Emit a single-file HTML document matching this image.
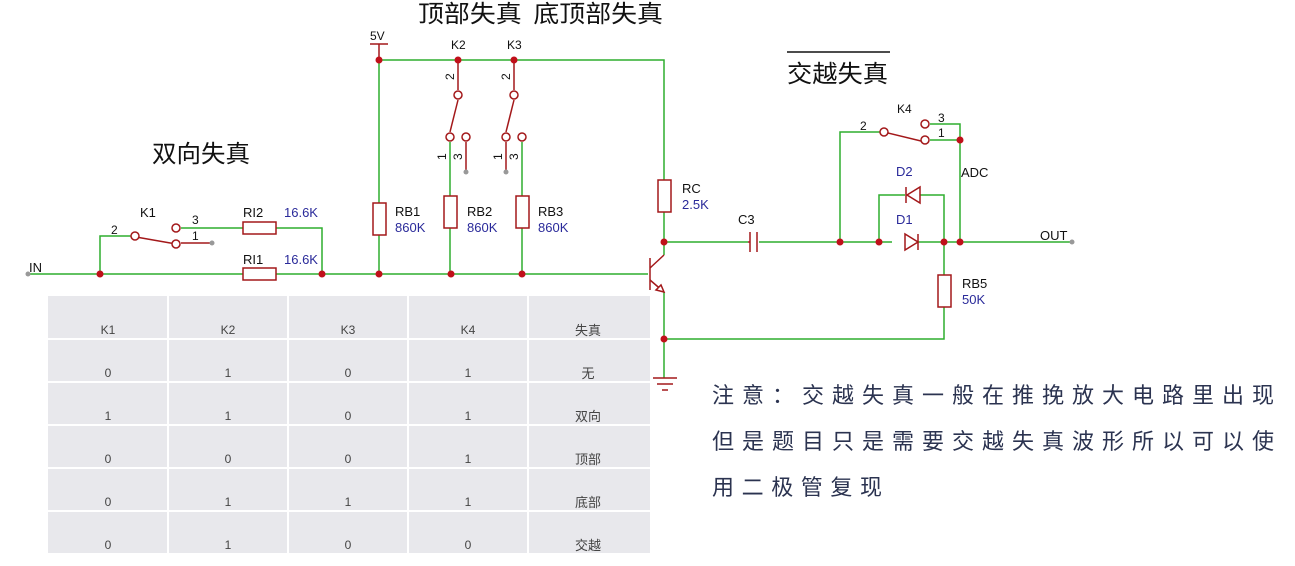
<!DOCTYPE html>
<html><head><meta charset="utf-8"><style>
body{margin:0;background:#fff;width:1295px;height:566px;overflow:hidden}
svg{display:block}
text{font-family:"Liberation Sans","Noto Sans CJK SC",sans-serif}
.w{stroke:#2fae2f;stroke-width:1.5;fill:none}
.c{stroke:#a3181a;stroke-width:1.5;fill:none}
.cf{stroke:#a3181a;stroke-width:1.5;fill:#fff}
.d{fill:#c0101a}
.g{fill:#999}
.lb{font-size:13px;fill:#111}
.val{font-size:13px;fill:#2a2a9a}
.pn{font-size:12px;fill:#111}
.t{font-size:12px;fill:#444;text-anchor:middle}
.tc{font-size:13px;fill:#444;text-anchor:middle;font-family:"Noto Sans CJK SC",sans-serif}
.title{font-size:24px;fill:#111;font-family:"Noto Sans CJK SC",sans-serif}
.note{font-size:22px;fill:#2b3350;font-family:"Noto Sans CJK SC",sans-serif}
</style></head><body>
<svg width="1295" height="566" viewBox="0 0 1295 566">
<!-- table -->
<rect x="48" y="296" width="602" height="257" fill="#e8e8ec"/>
<g stroke="#fff" stroke-width="2">
<line x1="168" y1="296" x2="168" y2="553"/><line x1="288" y1="296" x2="288" y2="553"/>
<line x1="408" y1="296" x2="408" y2="553"/><line x1="528" y1="296" x2="528" y2="553"/>
<line x1="48" y1="339" x2="650" y2="339"/><line x1="48" y1="382" x2="650" y2="382"/>
<line x1="48" y1="425" x2="650" y2="425"/><line x1="48" y1="468" x2="650" y2="468"/>
<line x1="48" y1="511" x2="650" y2="511"/>
</g>
<g class="t">
<text x="108" y="334">K1</text><text x="228" y="334">K2</text><text x="348" y="334">K3</text><text x="468" y="334">K4</text>
<text x="108" y="377">0</text><text x="228" y="377">1</text><text x="348" y="377">0</text><text x="468" y="377">1</text>
<text x="108" y="420">1</text><text x="228" y="420">1</text><text x="348" y="420">0</text><text x="468" y="420">1</text>
<text x="108" y="463">0</text><text x="228" y="463">0</text><text x="348" y="463">0</text><text x="468" y="463">1</text>
<text x="108" y="506">0</text><text x="228" y="506">1</text><text x="348" y="506">1</text><text x="468" y="506">1</text>
<text x="108" y="549">0</text><text x="228" y="549">1</text><text x="348" y="549">0</text><text x="468" y="549">0</text>
</g>
<g class="tc">
<text x="588" y="335">失真</text><text x="588" y="378">无</text><text x="588" y="421">双向</text>
<text x="588" y="464">顶部</text><text x="588" y="507">底部</text><text x="588" y="550">交越</text>
</g>

<!-- titles -->
<text class="title" x="152" y="162" textLength="98" lengthAdjust="spacingAndGlyphs">双向失真</text>
<text class="title" x="418" y="22" textLength="245" lengthAdjust="spacingAndGlyphs">顶部失真&#160;&#160;底顶部失真</text>
<line x1="787" y1="52" x2="890" y2="52" stroke="#111" stroke-width="1.5"/>
<text class="title" x="787" y="82" textLength="101" lengthAdjust="spacingAndGlyphs">交越失真</text>

<!-- wires -->
<g class="w">
<polyline points="28,274 243,274"/><polyline points="276,274 648,274"/>
<polyline points="100,274 100,236 132,236"/>
<polyline points="181,228 243,228"/><polyline points="276,228 322,228 322,274"/>
<polyline points="379,274 379,235"/><polyline points="379,203 379,60 664,60 664,180"/>
<polyline points="664,212 664,255"/>
<polyline points="450,228 450,274"/><polyline points="522,228 522,274"/>
<polyline points="450,142 450,196"/><polyline points="522,142 522,196"/>
<polyline points="664,242 748,242"/><polyline points="759,242 892,242"/>
<polyline points="918,242 1072,242"/>
<polyline points="840,242 840,132 880,132"/>
<polyline points="879,242 879,195 905,195"/><polyline points="920,195 944,195 944,242"/>
<polyline points="944,242 944,275"/><polyline points="944,307 944,339 664,339"/>
<polyline points="664,292 664,378"/>
<polyline points="960,242 960,140"/>
<polyline points="930,140 960,140"/><polyline points="930,124 960,124 960,140"/>
</g>
<!-- components -->
<g class="c">
<line x1="379" y1="44" x2="379" y2="60"/><line x1="370" y1="44" x2="388" y2="44"/>
<line x1="136" y1="237" x2="176" y2="244"/>
<line x1="181" y1="243" x2="212" y2="243" stroke="#a3181a"/>
<line x1="458" y1="60" x2="458" y2="90"/><line x1="458" y1="100" x2="450" y2="132"/>
<line x1="466" y1="142" x2="466" y2="172"/>
<line x1="514" y1="60" x2="514" y2="90"/><line x1="514" y1="100" x2="506" y2="132"/>
<line x1="506" y1="142" x2="506" y2="172"/>
<line x1="650" y1="258" x2="650" y2="290"/>
<line x1="650" y1="268" x2="664" y2="255"/><line x1="650" y1="280" x2="664" y2="292"/>
<polygon points="664,292 656,290 661,285" fill="#fff"/>
<line x1="750" y1="232" x2="750" y2="252"/><line x1="757" y1="232" x2="757" y2="252"/>
<line x1="748" y1="242" x2="750" y2="242"/>
<polygon points="905,234 905,250 918,242" fill="#fff"/><line x1="918" y1="234" x2="918" y2="250"/>
<polygon points="920,187 920,203 907,195" fill="#fff"/><line x1="906" y1="187" x2="906" y2="203"/>
<line x1="888" y1="133" x2="921" y2="141"/>
<line x1="653" y1="378" x2="677" y2="378"/><line x1="657" y1="384" x2="673" y2="384"/><line x1="662" y1="390" x2="668" y2="390"/>
</g>
<g class="cf">
<rect x="243" y="268" width="33" height="12"/><rect x="243" y="222" width="33" height="12"/>
<rect x="373" y="203" width="13" height="32"/>
<rect x="444" y="196" width="13" height="32"/><rect x="516" y="196" width="13" height="32"/>
<rect x="658" y="180" width="13" height="32"/><rect x="938" y="275" width="13" height="32"/>
<circle cx="135" cy="236" r="4"/><circle cx="176" cy="228" r="4"/><circle cx="176" cy="244" r="4"/>
<circle cx="458" cy="95" r="4"/><circle cx="450" cy="137" r="4"/><circle cx="466" cy="137" r="4"/>
<circle cx="514" cy="95" r="4"/><circle cx="506" cy="137" r="4"/><circle cx="522" cy="137" r="4"/>
<circle cx="884" cy="132" r="4"/><circle cx="925" cy="124" r="4"/><circle cx="925" cy="140" r="4"/>
</g>
<!-- dots -->
<g class="d">
<circle cx="100" cy="274" r="3.5"/><circle cx="322" cy="274" r="3.5"/><circle cx="379" cy="274" r="3.5"/>
<circle cx="451" cy="274" r="3.5"/><circle cx="522" cy="274" r="3.5"/>
<circle cx="379" cy="60" r="3.5"/><circle cx="458" cy="60" r="3.5"/><circle cx="514" cy="60" r="3.5"/>
<circle cx="664" cy="242" r="3.5"/><circle cx="664" cy="339" r="3.5"/>
<circle cx="840" cy="242" r="3.5"/><circle cx="879" cy="242" r="3.5"/><circle cx="944" cy="242" r="3.5"/>
<circle cx="960" cy="242" r="3.5"/><circle cx="960" cy="140" r="3.5"/>
</g>
<g class="g">
<circle cx="28" cy="274" r="2.5"/><circle cx="212" cy="243" r="2.5"/><circle cx="466" cy="172" r="2.5"/>
<circle cx="506" cy="172" r="2.5"/><circle cx="1072" cy="242" r="2.5"/>
</g>
<!-- labels -->
<text class="lb" x="29" y="272">IN</text>
<text class="lb" x="140" y="217">K1</text>
<text class="pn" x="111" y="234">2</text><text class="pn" x="192" y="224">3</text><text class="pn" x="192" y="240">1</text>
<text class="lb" x="243" y="217">RI2</text><text class="val" x="284" y="217">16.6K</text>
<text class="lb" x="243" y="264">RI1</text><text class="val" x="284" y="264">16.6K</text>
<text class="lb" x="370" y="40" style="font-size:12px">5V</text>
<text class="lb" x="451" y="49" style="font-size:12px">K2</text><text class="lb" x="507" y="49" style="font-size:12px">K3</text>
<g class="pn">
<text transform="translate(454,80) rotate(-90)">2</text><text transform="translate(510,80) rotate(-90)">2</text>
<text transform="translate(446,160) rotate(-90)">1</text><text transform="translate(462,160) rotate(-90)">3</text>
<text transform="translate(502,160) rotate(-90)">1</text><text transform="translate(518,160) rotate(-90)">3</text>
</g>
<text class="lb" x="395" y="216">RB1</text><text class="val" x="395" y="232">860K</text>
<text class="lb" x="467" y="216">RB2</text><text class="val" x="467" y="232">860K</text>
<text class="lb" x="538" y="216">RB3</text><text class="val" x="538" y="232">860K</text>
<text class="lb" x="682" y="193">RC</text><text class="val" x="682" y="209">2.5K</text>
<text class="lb" x="738" y="224">C3</text>
<text class="lb" x="896" y="176" style="fill:#2a2a9a">D2</text><text class="lb" x="896" y="224" style="fill:#2a2a9a">D1</text>
<text class="lb" x="897" y="113" style="font-size:12px">K4</text>
<text class="pn" x="860" y="130">2</text><text class="pn" x="938" y="122">3</text><text class="pn" x="938" y="137">1</text>
<text class="lb" x="961" y="177">ADC</text>
<text class="lb" x="1040" y="240">OUT</text>
<text class="lb" x="962" y="288">RB5</text><text class="val" x="962" y="304">50K</text>
<!-- note -->
<text class="note" x="712" y="403" textLength="562" lengthAdjust="spacing">注意：交越失真一般在推挽放大电路里出现</text>
<text class="note" x="712" y="449" textLength="562" lengthAdjust="spacing">但是题目只是需要交越失真波形所以可以使</text>
<text class="note" x="712" y="495" textLength="170" lengthAdjust="spacing">用二极管复现</text>
</svg>
</body></html>
